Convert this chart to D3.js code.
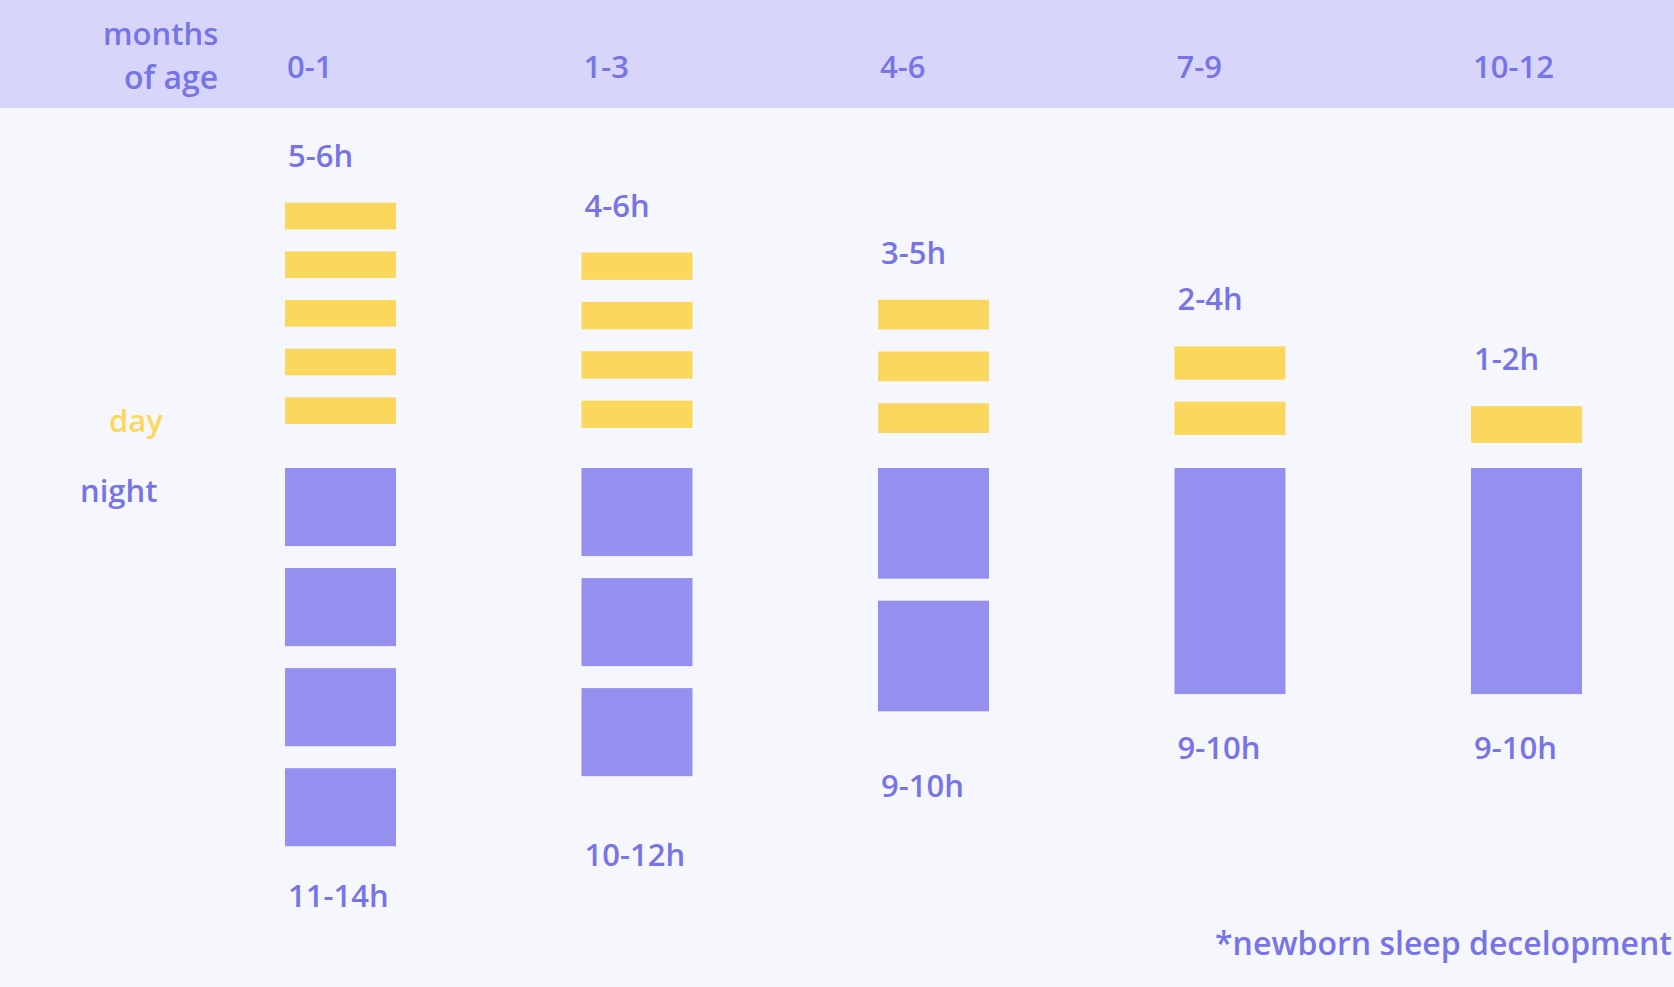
<!DOCTYPE html>
<html>
<head>
<meta charset="utf-8">
<script src="https://cdn.jsdelivr.net/npm/d3@7"></script>
<style>
  html, body { margin: 0; padding: 0; background: #f6f7fc; }
  svg { display: block; }
  text { font-family: "Open Sans", "Lato", sans-serif; font-weight: 600; }
</style>
</head>
<body>
<div id="chart"></div>
<script>
// age groups (months) and the ranges printed on the chart
const ageGroups = ["0-1", "1-3", "4-6", "7-9", "10-12"];
const dayLabels = ["5-6h", "4-6h", "3-5h", "2-4h", "1-2h"];
const nightLabels = ["11-14h", "10-12h", "9-10h", "9-10h", "9-10h"];

// hours of each nap (day) and each night stretch
const napHours = [
    [1.12, 1.12, 1.12, 1.12, 1.12],
    [1.15, 1.15, 1.15, 1.15],
    [1.25, 1.25, 1.25],
    [1.4, 1.4],
    [1.55]
];
const nightHours = [
    [3.28, 3.28, 3.28, 3.28],
    [3.7, 3.7, 3.7],
    [4.65, 4.65],
    [9.5],
    [9.5]
];

const width = 1674, height = 987;
const headerH = 108;
const nightTop = 468;
const barW = 111;
const segGap = 22;
// hand tuned spacing of the original layout
const dayNightGap = [44, 40, 35, 33, 25];
const nightLabelDy = [61, 90, 86, 65, 65];

const textColor = "#7674e6";
const dayColor = "#fbd75e";
const nightColor = "#958ff0";

const svg = d3.select("#chart").append("svg")
    .attr("width", width)
    .attr("height", height);

svg.append("rect").attr("width", width).attr("height", height).attr("fill", "#f6f7fc");
svg.append("rect").attr("width", width).attr("height", headerH).attr("fill", "#d7d6fa");

const x = d3.scalePoint().domain(ageGroups).range([285, 285 + 4 * 296.5]);
const h = d3.scaleLinear().domain([0, 1]).range([0, 23.8]);

// header texts
svg.append("text").attr("x", 103).attr("y", 45).attr("font-size", 31).attr("fill", textColor).text("months");
svg.append("text").attr("x", 124).attr("y", 89).attr("font-size", 32).attr("fill", textColor).text("of age");

svg.selectAll(".age")
    .data(ageGroups)
    .join("text")
    .attr("class", "age")
    .attr("x", function(d) { return x(d) + 2; })
    .attr("y", 78)
    .attr("font-size", 31)
    .attr("fill", textColor)
    .text(function(d) { return d; });

// legend-ish labels
svg.append("text").attr("x", 109).attr("y", 432).attr("font-size", 31).attr("fill", dayColor).text("day");
svg.append("text").attr("x", 80).attr("y", 502).attr("font-size", 31).attr("fill", textColor).text("night");

ageGroups.forEach(function(age, i) {
    const g = svg.append("g");
    const x0 = x(age);

    // night segments go down from nightTop
    let yPos = nightTop;
    const nightRects = nightHours[i].map(function(v) {
        const r = { y: yPos, h: h(v) };
        yPos += h(v) + segGap;
        return r;
    });
    const nightBottom = nightRects[nightRects.length - 1].y + nightRects[nightRects.length - 1].h;

    g.selectAll(".night")
        .data(nightRects)
        .join("rect")
        .attr("class", "night")
        .attr("x", x0)
        .attr("y", function(d) { return d.y; })
        .attr("width", barW)
        .attr("height", function(d) { return d.h; })
        .attr("fill", nightColor);

    // naps stack upward above the night block
    let yDay = nightTop - dayNightGap[i];
    const dayRects = napHours[i].map(function(v) {
        const r = { y: yDay - h(v), h: h(v) };
        yDay -= h(v) + segGap;
        return r;
    });
    const dayTop = dayRects[dayRects.length - 1].y;

    g.selectAll(".day")
        .data(dayRects)
        .join("rect")
        .attr("class", "day")
        .attr("x", x0)
        .attr("y", function(d) { return d.y; })
        .attr("width", barW)
        .attr("height", function(d) { return d.h; })
        .attr("fill", dayColor);

    g.append("text")
        .attr("x", x0 + 3)
        .attr("y", dayTop - 36)
        .attr("font-size", 31)
        .attr("fill", textColor)
        .text(dayLabels[i]);

    g.append("text")
        .attr("x", x0 + 3)
        .attr("y", nightBottom + nightLabelDy[i])
        .attr("font-size", 31)
        .attr("fill", textColor)
        .text(nightLabels[i]);
});

svg.append("text")
    .attr("x", 1672)
    .attr("y", 955)
    .attr("text-anchor", "end")
    .attr("font-size", 32)
    .attr("fill", textColor)
    .text("*newborn sleep decelopment");
</script>
</body>
</html>
